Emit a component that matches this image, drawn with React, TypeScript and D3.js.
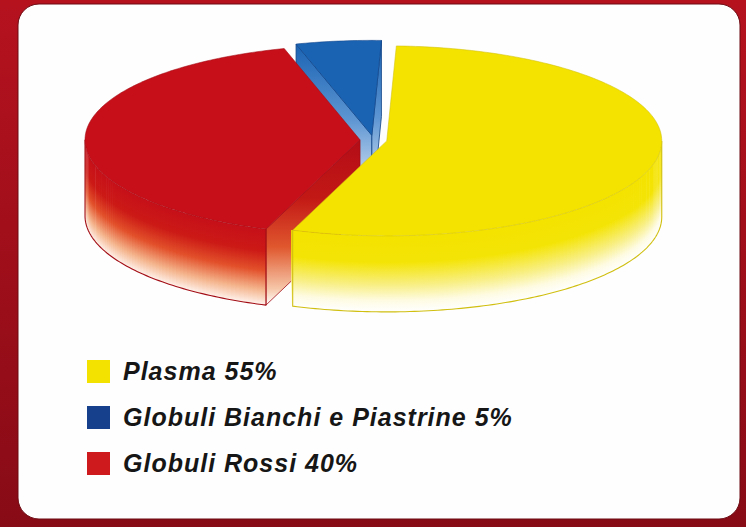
import { useEffect, useRef } from "react";
import * as d3 from "d3";

const labels = ["Plasma", "Globuli Bianchi e Piastrine", "Globuli Rossi"];
const values = [55, 5, 40];
const topColors = ["#f4e300", "#1a63b3", "#c60f19"];
const legendColors = ["#f3e200", "#163f8c", "#cf1a1d"];
const edgeColors = ["#d0bf10", "#0e4286", "#a20d15"];
// order of the slices clockwise from 12 o'clock
const pieOrder = [0, 2, 1];

// side-face gradients (top of face -> bottom of face)
const wallStops = [
  [[0, "#f4e300"], [0.35, "#f4e406"], [0.65, "#f8ef86"], [0.85, "#fefbe2"], [1, "#ffffff"]],
  [[0, "#1a63b3"], [0.5, "#6fa2d8"], [1, "#ffffff"]],
  [[0, "#c60f19"], [0.3, "#cc1a16"], [0.55, "#e2502a"], [0.8, "#f4b48c"], [1, "#fff3ee"]],
];
const cutStops = [
  [[0, "#e8d800"], [0.5, "#f4e420"], [1, "#ffffff"]],
  [[0, "#1a63b3"], [0.45, "#5d95d2"], [1, "#ffffff"]],
  [[0, "#b40d17"], [0.35, "#c21815"], [0.65, "#e0582e"], [0.9, "#f6c6a8"], [1, "#ffffff"]],
];

const W = 746;
const H = 527;

export default function App() {
  const svgRef = useRef<SVGSVGElement>(null);

  useEffect(() => {
    const svg = d3.select(svgRef.current);
    svg.selectAll("*").remove();
    const defs = svg.append("defs");

    const addGrad = (id: string, stops: any[]) => {
      const g = defs.append("linearGradient").attr("id", id)
        .attr("x1", 0).attr("y1", 0).attr("x2", 0).attr("y2", 1);
      stops.forEach(([o, c]) => g.append("stop").attr("offset", o).attr("stop-color", c));
    };
    addGrad("bg", [[0, "#b5121e"], [1, "#870b16"]]);
    wallStops.forEach((s, i) => addGrad(`wall-${i}`, s));
    cutStops.forEach((s, i) => addGrad(`cut-${i}`, s));

    // cornice rossa + pannello bianco
    svg.append("rect").attr("width", W).attr("height", H).attr("fill", "url(#bg)");
    svg.append("rect")
      .attr("x", 18).attr("y", 4).attr("width", 722).attr("height", 515).attr("rx", 21)
      .attr("fill", "#fefefe").attr("stroke", "#6d0a12").attr("stroke-width", 1);

    // torta 3D esplosa
    const cx = 373.5, cy = 140, rx = 275, ry = 95, depth = 76, explode = 13.5;
    const start = (2 * Math.PI) / 180;
    const step = Math.PI / 180;

    const pie = d3.pie<number>()
      .value(i => values[i])
      .sort((a, b) => pieOrder.indexOf(a) - pieOrder.indexOf(b))
      .startAngle(start)
      .endAngle(start + 2 * Math.PI);
    const arcs = pie(d3.range(values.length));

    const line = d3.line();
    const g = svg.append("g");

    // prima le fette dietro
    const sorted = [...arcs].sort((a, b) =>
      Math.cos((b.startAngle + b.endAngle) / 2) - Math.cos((a.startAngle + a.endAngle) / 2)
    );

    sorted.forEach(arc => {
      const i = arc.data;
      const a0 = arc.startAngle, a1 = arc.endAngle;
      const mid = (a0 + a1) / 2;
      const ox = cx + explode * Math.sin(mid);
      const oy = cy - explode * Math.cos(mid) * (ry / rx);
      const P = (a: number, z: number): [number, number] => [ox + rx * Math.sin(a), oy - ry * Math.cos(a) + z];
      const rim = (lo: number, hi: number, z: number) => {
        const n = Math.max(2, Math.ceil((hi - lo) / step));
        return d3.range(n + 1).map(k => P(lo + ((hi - lo) * k) / n, z));
      };

      // facce radiali
      const cuts: number[] = [];
      if (Math.sin(a0) < 0) cuts.push(a0);
      if (Math.sin(a1) > 0) cuts.push(a1);
      cuts.forEach(a => {
        g.append("path")
          .attr("d", line([[ox, oy], P(a, 0), P(a, depth), [ox, oy + depth]]) + "Z")
          .attr("fill", `url(#cut-${i})`)
          .attr("stroke", edgeColors[i]).attr("stroke-width", 0.8).attr("stroke-linejoin", "round");
      });

      // parete esterna (solo la parte davanti)
      const intervals: [number, number][] = [];
      [Math.PI / 2, Math.PI / 2 + 2 * Math.PI].forEach(base => {
        const lo = Math.max(a0, base), hi = Math.min(a1, base + Math.PI);
        if (hi > lo) intervals.push([lo, hi]);
      });
      intervals.forEach(([lo, hi]) => {
        const strips = d3.range(lo, hi, step);
        g.append("g").selectAll("path")
          .data(strips)
          .join("path")
          .attr("d", a => {
            const a2 = Math.min(a + step, hi);
            const a2e = a2 < hi ? a2 + 0.006 : a2;
            return line([P(a, 0), P(a2e, 0), P(a2e, depth), P(a, depth)]) + "Z";
          })
          .attr("fill", `url(#wall-${i})`);
        g.append("path")
          .attr("d", line([P(lo, 0), ...rim(lo, hi, depth), P(hi, 0)]))
          .attr("fill", "none")
          .attr("stroke", edgeColors[i]).attr("stroke-width", 1.1).attr("stroke-linejoin", "round");
      });

      // faccia superiore
      g.append("path")
        .attr("d", line([[ox, oy], ...rim(a0, a1, 0)]) + "Z")
        .attr("fill", topColors[i])
        .attr("stroke", edgeColors[i]).attr("stroke-opacity", 0.55).attr("stroke-width", 1)
        .attr("stroke-linejoin", "round");
    });

    // legenda
    const rowY = d3.scalePoint<number>().domain(d3.range(labels.length)).range([360, 452]);
    const legend = svg.append("g")
      .selectAll("g")
      .data(d3.range(labels.length))
      .join("g")
      .attr("transform", i => `translate(87, ${rowY(i)})`);
    legend.append("rect")
      .attr("width", 23).attr("height", 23)
      .attr("fill", i => legendColors[i]);
    legend.append("text")
      .attr("x", 36).attr("y", 20)
      .text(i => `${labels[i]} ${values[i]}%`)
      .attr("fill", "#161616")
      .style("font-family", "'Liberation Sans', Arial, sans-serif")
      .style("font-weight", "bold")
      .style("font-style", "italic")
      .style("font-size", "25px")
      .style("letter-spacing", "1px");
  }, []);

  return (
    <svg
      ref={svgRef}
      width={W}
      height={H}
      style={{ position: "absolute", left: 0, top: 0, display: "block" }}
    />
  );
}
